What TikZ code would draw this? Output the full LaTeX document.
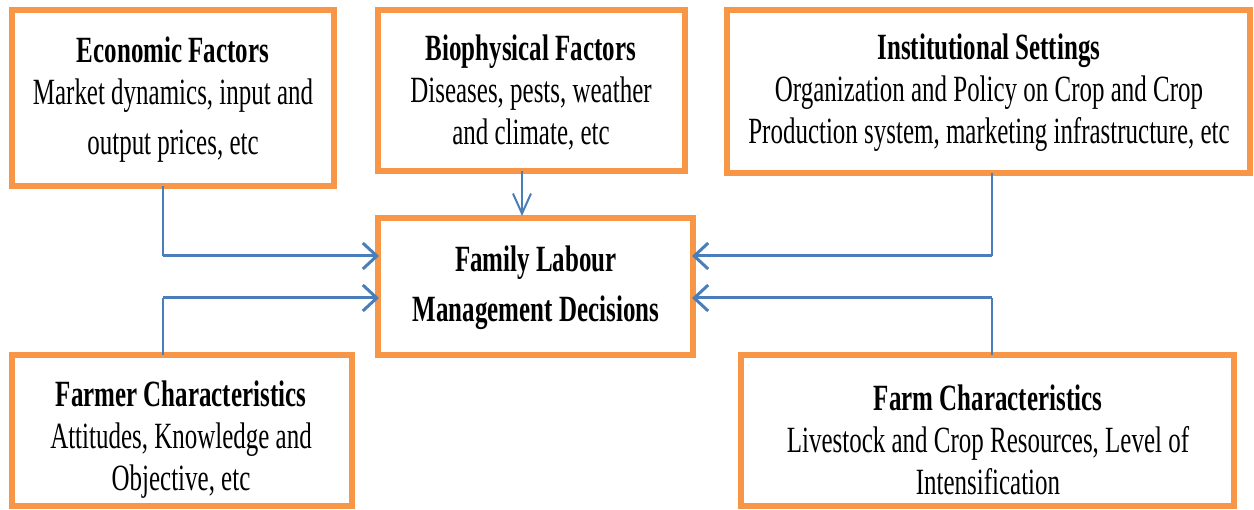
\documentclass[tikz,border=0pt]{standalone}
\usepackage{fontspec}
\setmainfont{Liberation Serif}[FakeStretch=0.675]
\usetikzlibrary{arrows.meta}
\definecolor{boxorange}{HTML}{F79646}
\definecolor{linkblue}{HTML}{4A7EBB}
\tikzset{
  factor/.style={draw=boxorange, line width=6pt, fill=white, inner sep=0pt},
  txt/.style={align=center, font=\fontsize{37}{42}\selectfont, inner sep=0pt},
  feed/.style={draw=linkblue, line width=3pt, -{Straight Barb[length=14pt,width=26pt,line width=3pt]}},
  stem/.style={draw=linkblue, line width=2pt},
}
\begin{document}
\begin{tikzpicture}[x=1pt,y=-1pt]
\useasboundingbox (0,0) rectangle (1254,510);
% boxes
\draw[factor] (12,10) rectangle (334,186);
\draw[factor] (378,10) rectangle (685,171);
\draw[factor] (727,10) rectangle (1250,173);
\draw[factor] (378,218) rectangle (693,355);
\draw[factor] (12,355) rectangle (352,506);
\draw[factor] (741,355) rectangle (1234,506);
% named anchors
\node[inner sep=0pt] (econ) at (163,186) {};
\node[inner sep=0pt] (bio) at (522,171) {};
\node[inner sep=0pt] (inst) at (992,173) {};
\node[inner sep=0pt] (farmer) at (163,355) {};
\node[inner sep=0pt] (farm) at (992,355) {};
\coordinate (famtop) at (522,216);
\coordinate (famL1) at (379,256);
\coordinate (famL2) at (379,298);
\coordinate (famR1) at (692,256);
\coordinate (famR2) at (692,298);
\coordinate (eb) at (163,256);
\coordinate (fb) at (163,298);
\coordinate (ib) at (992,256);
\coordinate (rb) at (992,298);
% texts
\node[txt] (econT) at (173,100) {\textbf{Economic Factors}\\Market dynamics, input and\\[8pt]output prices, etc};
\node[txt] (bioT) at (531,93) {\textbf{Biophysical Factors}\\Diseases, pests, weather\\and climate, etc};
\node[txt] (instT) at (989,93) {\textbf{Institutional Settings}\\Organization and Policy on Crop and Crop\\Production system, marketing infrastructure, etc};
\node[txt] (famT) at (536,288) {\textbf{Family Labour}\\[8pt]\textbf{Management Decisions}};
\node[txt] (farmerT) at (181,440) {\textbf{Farmer Characteristics}\\Attitudes, Knowledge and\\Objective, etc};
\node[txt] (farmT) at (988,440) {\textbf{Farm Characteristics}\\Livestock and Crop Resources, Level of\\Intensification};
% connectors
\draw[stem] (econ.center) -- (eb);
\draw[feed] (eb) -- (famL1);
\draw[stem] (farmer.center) -- (fb);
\draw[feed] (fb) -- (famL2);
\draw[stem] (inst.center) -- (ib);
\draw[feed] (ib) -- (famR1);
\draw[stem] (farm.center) -- (rb);
\draw[feed] (rb) -- (famR2);
\draw[draw=linkblue, line width=2pt, -{Straight Barb[length=20pt,width=18pt,line width=2pt]}] (bio.center) -- (famtop);
\end{tikzpicture}
\end{document}
